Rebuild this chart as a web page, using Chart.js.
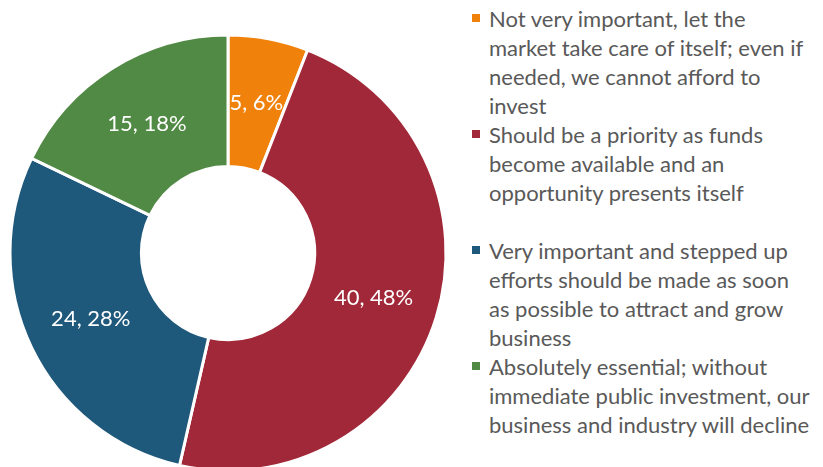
<!DOCTYPE html>
<html lang="en">
<head>
    <meta charset="UTF-8" />
    <title>Investment priority</title>
    <script src="https://cdn.jsdelivr.net/npm/chart.js"></script>
    <style>
        html, body { margin: 0; padding: 0; background: #fff; overflow: hidden; }
        #wrap { position: relative; width: 823px; height: 467px; }
        #chartBox { position: absolute; left: 0; top: 0; width: 456px; height: 506px; }
        #legend { position: absolute; left: 472px; top: 4px; font-family: Lato, sans-serif; font-size: 22px; line-height: 29px; color: #595959; }
        .item { position: relative; padding-left: 17px; white-space: nowrap; }
        .item.gap { margin-top: 29px; }
        .swatch { position: absolute; left: 0; top: 10px; width: 8px; height: 8px; }
    </style>
</head>
<body>
    <div id="wrap">
        <div id="chartBox"><canvas id="donut"></canvas></div>
        <div id="legend"></div>
    </div>

    <script>
        const labels = [
            ["Not very important, let the", "market take care of itself; even if", "needed, we cannot afford to", "invest"],
            ["Should be a priority as funds", "become available and an", "opportunity presents itself"],
            ["Very important and stepped up", "efforts should be made as soon", "as possible to attract and grow", "business"],
            ["Absolutely essential; without", "immediate public investment, our", "business and industry will decline"]
        ];
        const counts = [5, 40, 24, 15];
        const percents = [6, 48, 28, 18];
        const colors = ["#f0820c", "#a12838", "#1e587a", "#518a44"];

        // legend on the right, one entry per slice
        const legend = document.getElementById("legend");
        labels.forEach((lines, i) => {
            const item = document.createElement("div");
            item.className = "item" + (i === 2 ? " gap" : "");
            item.innerHTML = `<span class="swatch" style="background:${colors[i]}"></span>` + lines.join("<br>");
            legend.appendChild(item);
        });

        // "count, pct%" written in the middle of each slice
        const sliceLabels = {
            id: "sliceLabels",
            afterDatasetsDraw(chart) {
                const ctx = chart.ctx;
                const meta = chart.getDatasetMeta(0);
                ctx.save();
                ctx.font = "22px Lato, sans-serif";
                ctx.fillStyle = "#ffffff";
                ctx.textAlign = "center";
                ctx.textBaseline = "middle";
                meta.data.forEach((arc, i) => {
                    const p = arc.tooltipPosition();
                    ctx.fillText(`${counts[i]}, ${percents[i]}%`, p.x, p.y);
                });
                ctx.restore();
            }
        };

        new Chart(document.getElementById("donut"), {
            type: "doughnut",
            data: {
                labels: labels.map(l => l.join(" ")),
                datasets: [{
                    data: counts,
                    backgroundColor: colors,
                    borderColor: "#ffffff",
                    borderWidth: 3,
                    radius: 218,
                    cutout: 90
                }]
            },
            options: {
                responsive: true,
                maintainAspectRatio: false,
                animation: false,
                layout: { padding: 0 },
                plugins: {
                    legend: { display: false },
                    tooltip: { enabled: false }
                }
            },
            plugins: [sliceLabels]
        });
    </script>
</body>
</html>
